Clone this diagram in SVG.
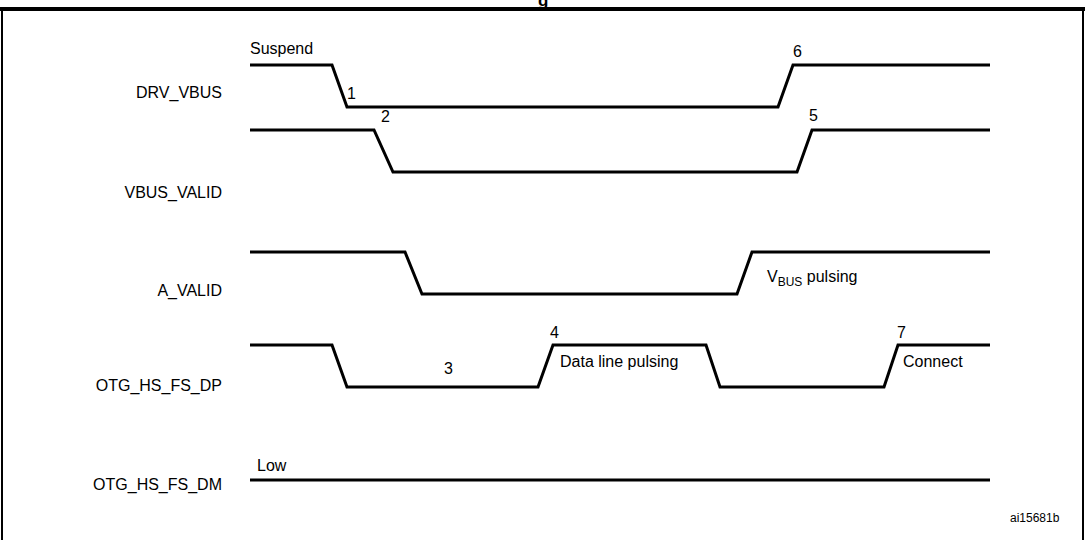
<svg xmlns="http://www.w3.org/2000/svg" width="1085" height="540" viewBox="0 0 1085 540">
<style>
text{font-family:"Liberation Sans",Arial,sans-serif;font-size:16px;fill:#000}
.lbl{text-anchor:end}
.sig{fill:none;stroke:#000;stroke-width:3;stroke-linejoin:miter}
.frame{fill:none;stroke:#000}
</style>
<rect width="1085" height="540" fill="#fff"/>
<text x="538" y="6" style="font-weight:bold;font-size:17px">g</text>
<g id="frame">
<line x1="0" y1="9" x2="1085" y2="9" stroke="#000" stroke-width="4"/>
<line x1="2" y1="9" x2="2" y2="540" class="frame" stroke-width="2"/>
<line x1="1083" y1="9" x2="1083" y2="540" class="frame" stroke-width="2"/>
</g>
<g id="labels">
<text class="lbl" x="222" y="98">DRV_VBUS</text>
<text class="lbl" x="222" y="198">VBUS_VALID</text>
<text class="lbl" x="222" y="296">A_VALID</text>
<text class="lbl" x="222" y="391">OTG_HS_FS_DP</text>
<text class="lbl" x="222" y="490">OTG_HS_FS_DM</text>
</g>
<g id="connectors">
<polyline id="drv" class="sig" points="250,65 332,65 347,107 778,107 793,65 990,65"/>
<polyline id="vbusvalid" class="sig" points="250,130 374,130 393,172 797,172 812,130 990,130"/>
<polyline id="avalid" class="sig" points="250,252 405,252 422,294 737,294 752,252 990,252"/>
<polyline id="dp" class="sig" points="250,345 332,345 347,387 538,387 553,345 706,345 720,387 884,387 898,345 990,345"/>
<polyline id="dm" class="sig" points="250,480 990,480"/>
</g>
<g id="annotations">
<text x="250" y="54">Suspend</text>
<text x="347" y="99">1</text>
<text x="793" y="57">6</text>
<text x="381" y="122">2</text>
<text x="809" y="121">5</text>
<text x="767" y="282">V<tspan font-size="12" dy="4">BUS</tspan><tspan dy="-4"> pulsing</tspan></text>
<text x="550" y="338">4</text>
<text x="560" y="367">Data line pulsing</text>
<text x="444" y="374">3</text>
<text x="897" y="338">7</text>
<text x="903" y="367">Connect</text>
<text x="257" y="471">Low</text>
<text x="1010" y="522" style="font-size:12px">ai15681b</text>
</g>
</svg>
